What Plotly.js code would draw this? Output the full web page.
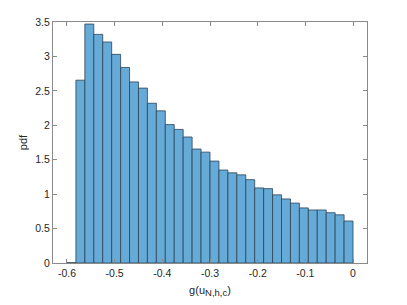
<!DOCTYPE html>
<html>
<head>
<meta charset="utf-8">
<script src="https://cdn.plot.ly/plotly-3.0.1.min.js"></script>
<style>html,body{margin:0;padding:0;background:#fff;}#chart{width:407px;height:305px;}</style>
</head>
<body>
<div id="chart"></div>
<script>
// Histogram (pdf normalisation), 32 equal bins from -0.6 to 0
var binStart = -0.6;
var binWidth = 0.01875;
var pdfValues = [0.005, 2.655, 3.47, 3.32, 3.21, 3.03, 2.84, 2.63, 2.54, 2.32, 2.21, 2.01, 1.94, 1.83, 1.655, 1.61,
                 1.48, 1.35, 1.31, 1.28, 1.21, 1.09, 1.08, 0.99, 0.93, 0.87, 0.80, 0.77, 0.77, 0.73, 0.70, 0.61];
var xTickVals = [-0.6, -0.5, -0.4, -0.3, -0.2, -0.1, 0];
var xTickText = ['-0.6', '-0.5', '-0.4', '-0.3', '-0.2', '-0.1', '0'];
var yTickVals = [0, 0.5, 1, 1.5, 2, 2.5, 3, 3.5];
var yTickText = ['0', '0.5', '1', '1.5', '2', '2.5', '3', '3.5'];

var centers = pdfValues.map(function (v, i) { return binStart + (i + 0.5) * binWidth; });

var trace = {
  type: 'bar',
  x: centers,
  y: pdfValues,
  width: binWidth,
  marker: { color: '#66AAD7', line: { color: '#2c4257', width: 0.8 } },
  hoverinfo: 'x+y'
};

var axisCommon = {
  showline: true, linecolor: '#8a8a8a', linewidth: 1, mirror: 'ticks',
  ticks: 'inside', ticklen: 4, tickwidth: 1, tickcolor: '#8a8a8a',
  showgrid: false, zeroline: false,
  tickfont: { family: 'Liberation Sans, Arial, sans-serif', size: 10.5, color: '#262626' }
};

var layout = {
  width: 407, height: 305,
  margin: { l: 53, r: 40, t: 22, b: 41.5, pad: 0 },
  paper_bgcolor: '#fff', plot_bgcolor: '#fff',
  showlegend: false,
  bargap: 0,
  xaxis: Object.assign({}, axisCommon, {
    range: [-0.6293, 0.0293],
    tickmode: 'array', tickvals: xTickVals, ticktext: xTickText,
    title: { text: 'g(u<sub><span style="font-size:9.5px">N,h,c</span></sub>)', standoff: 8,
             font: { family: 'Liberation Sans, Arial, sans-serif', size: 11, color: '#262626' } }
  }),
  yaxis: Object.assign({}, axisCommon, {
    range: [0, 3.5],
    tickmode: 'array', tickvals: yTickVals, ticktext: yTickText,
    title: { text: 'pdf', standoff: 5,
             font: { family: 'Liberation Sans, Arial, sans-serif', size: 11, color: '#262626' } }
  })
};

Plotly.newPlot('chart', [trace], layout, { staticPlot: true, displayModeBar: false });
</script>
</body>
</html>
